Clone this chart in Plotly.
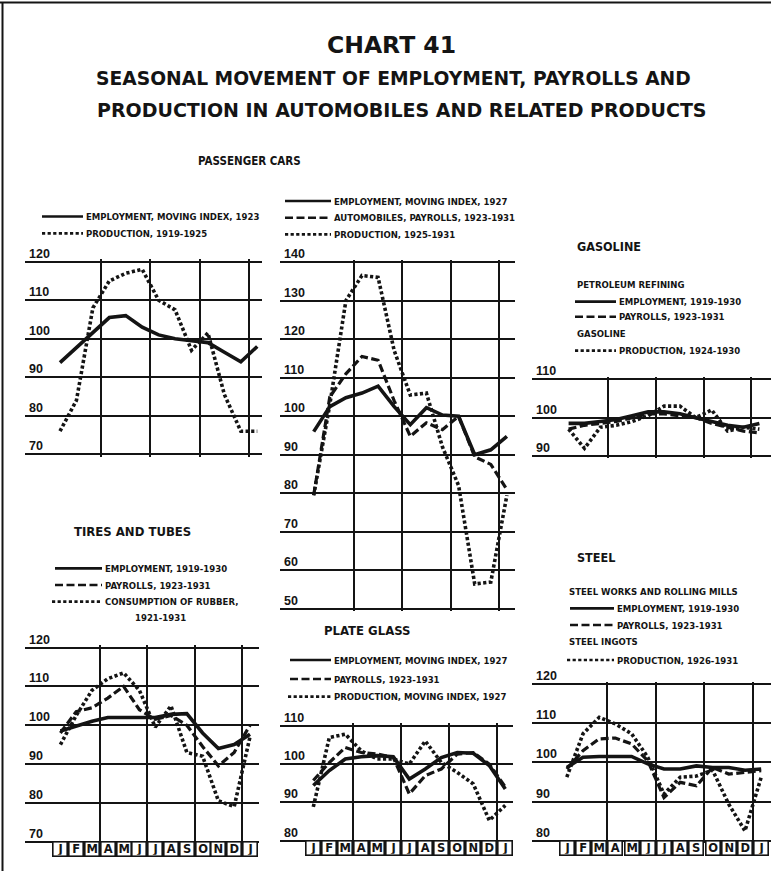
import plotly.graph_objects as go

# ---------------- data ----------------
months = ["J", "F", "M", "A", "M", "J", "J", "A", "S", "O", "N", "D", "J"]
quarter_lines = [2.5, 5.5, 8.5, 11.5]

# Passenger cars (left)
pc1_employment = [93.8, 97.7, 101.5, 105.5, 106, 103, 101, 100, 99.5, 99, 96.5, 94, 98]
pc1_production = [76, 84, 108, 115, 117, 118, 110, 107.5, 97, 101.5, 85.5, 76, 76]

# Passenger cars (middle)
pc2_employment = [96, 102.5, 104.8, 106, 107.8, 102.5, 97.8, 102.2, 100.3, 100, 90, 91.3, 94.8]
pc2_payrolls = [79.5, 105, 111, 115.5, 114.5, 104, 94.8, 98.3, 96.5, 100, 89.5, 87.5, 81]
pc2_production = [79.5, 103, 130, 136.5, 136, 117, 105.5, 106, 92, 82, 56.5, 57, 79.5]

# Gasoline
gas_employment = [98.5, 98.5, 99, 99.5, 100.5, 101.5, 101.5, 101, 100, 99, 98, 97.5, 98.5]
gas_payrolls = [97, 98, 98.5, 99, 100, 101, 101, 100.5, 100, 98.5, 97.5, 96.5, 96]
gas_production = [97, 92, 97.5, 98, 99, 100.5, 103, 103, 100, 102, 96.5, 97.5, 97]

# Tires and tubes
tt_employment = [98.5, 99.8, 101, 102, 102, 102, 102, 102.8, 103, 98, 94, 95, 97.7]
tt_payrolls = [98, 103.5, 104.5, 107, 110, 104, 101.5, 102.5, 100, 94.5, 89.5, 93, 100]
tt_production = [95, 102.5, 109, 112, 113.5, 109, 99.5, 105, 93, 92, 80.5, 79, 97]

# Plate glass
pg_employment = [94.4, 98.3, 101.3, 101.9, 102.2, 101.9, 96.1, 98.7, 101.7, 103, 102.8, 99.6, 93.5]
pg_payrolls = [95.7, 100.4, 104.3, 103, 102.6, 101.7, 92.2, 97, 98.7, 102.6, 103, 100, 94]
pg_production = [88.8, 106.9, 107.8, 103.4, 101.3, 101.3, 100, 106, 100.4, 97.8, 94.8, 85.3, 89.2]

# Steel
st_employment = [98.7, 101.3, 101.5, 101.5, 101.5, 99.6, 98.3, 98.3, 99.1, 98.7, 98.7, 98, 98.3]
st_payrolls = [98.3, 103, 106, 106.2, 104.7, 100.4, 91, 94.9, 94, 98.7, 97, 97.4, 97.9]
st_production = [96.2, 107.3, 111.5, 109.8, 107.3, 101.3, 91.9, 96.2, 96.5, 98, 89.3, 82.5, 96.2]

# ---------------- layout helpers ----------------
W, H = 771, 871
INK = "#141414"
def fx(px):
    return px / W
def fy(py):
    return 1 - py / H

SOLID = dict(dash="solid", width=3.6)
DASH = dict(dash="8px,3.5px", width=3.2)
DOT = dict(dash="3.2px,2.4px", width=3.6)

panels = [
    dict(jan=60, step=16.44, xmin=-2.1, xmax=12.3, ylow=70, yhigh=120, ylow_px=454.3, yhigh_px=261.7,
         series=[(pc1_employment, SOLID), (pc1_production, DOT)], boxes=False),
    dict(jan=313.7, step=16.1, xmin=-2.1, xmax=12.5, ylow=50, yhigh=140, ylow_px=609, yhigh_px=262,
         series=[(pc2_employment, SOLID), (pc2_payrolls, DASH), (pc2_production, DOT)], boxes=False),
    dict(jan=568.6, step=15.9, xmin=-2.3, xmax=12.7, ylow=90, yhigh=110, ylow_px=456, yhigh_px=379.3,
         series=[(gas_employment, SOLID), (gas_payrolls, DASH), (gas_production, DOT)], boxes=False),
    dict(jan=60.4, step=15.8, xmin=-2.24, xmax=12.6, ylow=70, yhigh=120, ylow_px=841.5, yhigh_px=647.7,
         series=[(tt_employment, SOLID), (tt_payrolls, DASH), (tt_production, DOT)], boxes=True),
    dict(jan=313.3, step=16.0, xmin=-2.1, xmax=12.5, ylow=80, yhigh=110, ylow_px=840.7, yhigh_px=725.7,
         series=[(pg_employment, SOLID), (pg_payrolls, DASH), (pg_production, DOT)], boxes=True),
    dict(jan=566.8, step=16.2, xmin=-2.17, xmax=12.6, ylow=80, yhigh=120, ylow_px=840.7, yhigh_px=684,
         series=[(st_employment, SOLID), (st_payrolls, DASH), (st_production, DOT)], boxes=True),
]

fig = go.Figure()
layout = dict(width=W, height=H, margin=dict(l=0, r=0, t=0, b=0),
              paper_bgcolor="white", plot_bgcolor="rgba(0,0,0,0)", showlegend=False)
annotations = []
shapes = []
PAD = 0.6
xs = list(range(len(months)))

for i, p in enumerate(panels, start=1):
    xa = "x" if i == 1 else f"x{i}"
    ya = "y" if i == 1 else f"y{i}"
    scale = (p["ylow_px"] - p["yhigh_px"]) / (p["yhigh"] - p["ylow"])
    top = p["yhigh_px"] - PAD * scale
    bot = p["ylow_px"] + PAD * scale
    left = p["jan"] + p["xmin"] * p["step"]
    right = p["jan"] + p["xmax"] * p["step"]
    layout[f"xaxis{'' if i == 1 else i}"] = dict(
        domain=[fx(left), fx(right)], range=[p["xmin"], p["xmax"]], anchor=ya,
        tickvals=quarter_lines, showticklabels=False, ticks="", showgrid=True,
        gridcolor=INK, gridwidth=2, zeroline=False, showline=False, fixedrange=True)
    layout[f"yaxis{'' if i == 1 else i}"] = dict(
        domain=[fy(bot), fy(top)], range=[p["ylow"] - PAD, p["yhigh"] + PAD], anchor=xa,
        tickvals=list(range(p["ylow"], p["yhigh"] + 1, 10)), showticklabels=False, ticks="",
        showgrid=True, gridcolor=INK, gridwidth=2.2, zeroline=False, showline=False, fixedrange=True)
    for vals, style in p["series"]:
        fig.add_trace(go.Scatter(x=xs, y=vals, mode="lines", xaxis=xa, yaxis=ya,
                                 line=dict(color=INK, **style), hoverinfo="skip"))
    for v in range(p["ylow"], p["yhigh"] + 1, 10):
        annotations.append(dict(x=p["xmin"] + 0.12, y=v, xref=xa, yref=ya, text=str(v),
                                showarrow=False, xanchor="left", yanchor="bottom", yshift=-1,
                                font=dict(family="Liberation Sans", size=12.5, color=INK, weight="bold")))
    if p["boxes"]:
        for k, m in enumerate(months):
            annotations.append(dict(x=k, y=p["ylow"], xref=xa, yref=ya, text=m, showarrow=False,
                                    xanchor="center", yanchor="middle", yshift=-7.5,
                                    width=12, height=11.5, borderwidth=1.6, borderpad=0.6,
                                    bordercolor=INK, bgcolor="white", valign="middle",
                                    font=dict(family="DejaVu Sans", size=11.5, color=INK, weight="bold")))

fig.update_layout(**layout)

# ---------------- titles ----------------
def text(x, y, t, size, anchor="left", family="DejaVu Sans Condensed", bold=True):
    annotations.append(dict(x=fx(x), y=fy(y), xref="paper", yref="paper", text=t, showarrow=False,
                            xanchor=anchor, yanchor="middle",
                            font=dict(family=family, size=size, color=INK,
                                      weight="bold" if bold else "normal")))

text(391, 45, "CHART 41", 23.5, "center", "DejaVu Sans", True)
text(394, 78, "SEASONAL MOVEMENT OF EMPLOYMENT, PAYROLLS AND", 18.7, "center", "DejaVu Sans", True)
text(402, 110, "PRODUCTION IN AUTOMOBILES AND RELATED PRODUCTS", 19, "center", "DejaVu Sans", True)

text(196, 161, "PASSENGER CARS", 11.5)
text(575, 247, "GASOLINE", 12.5)
text(72, 531, "TIRES AND TUBES", 13)
text(322, 630, "PLATE GLASS", 13)
text(575, 557, "STEEL", 12.5)

def legend_row(x0, x1, y, style, label, size=9.5):
    shapes.append(dict(type="line", xref="paper", yref="paper", x0=fx(x0), x1=fx(x1), y0=fy(y), y1=fy(y),
                       line=dict(color=INK, width=style["width"] * 0.75, dash=style["dash"])))
    text(x1 + 1, y, label, size)

# Passenger cars left
legend_row(42, 83, 216.5, SOLID, "EMPLOYMENT, MOVING INDEX, 1923")
legend_row(42, 83, 233.3, DOT, "PRODUCTION, 1919-1925")
# Passenger cars middle
legend_row(285, 331, 201, SOLID, "EMPLOYMENT, MOVING INDEX, 1927")
legend_row(285, 331, 217.7, DASH, "AUTOMOBILES, PAYROLLS, 1923-1931")
legend_row(285, 331, 234.3, DOT, "PRODUCTION, 1925-1931")
# Gasoline
text(575, 284, "PETROLEUM REFINING", 9.5)
legend_row(575, 616, 301.7, SOLID, "EMPLOYMENT, 1919-1930")
legend_row(575, 616, 316.7, DASH, "PAYROLLS, 1923-1931")
text(575, 333, "GASOLINE", 9.5)
legend_row(575, 616, 350.7, DOT, "PRODUCTION, 1924-1930")
# Tires
legend_row(55, 102, 568.3, SOLID, "EMPLOYMENT, 1919-1930")
legend_row(55, 102, 585, DASH, "PAYROLLS, 1923-1931")
legend_row(52, 102, 601.7, DOT, "CONSUMPTION OF RUBBER,")
text(160, 617, "1921-1931", 9.5, "center")
# Plate glass
legend_row(290, 331, 660, SOLID, "EMPLOYMENT, MOVING INDEX, 1927")
legend_row(290, 331, 679, DASH, "PAYROLLS, 1923-1931")
legend_row(288, 331, 696.7, DOT, "PRODUCTION, MOVING INDEX, 1927")
# Steel
text(567, 591.7, "STEEL WORKS AND ROLLING MILLS", 9.5)
legend_row(570, 614, 608.3, SOLID, "EMPLOYMENT, 1919-1930")
legend_row(570, 614, 625, DASH, "PAYROLLS, 1923-1931")
text(567, 641.7, "STEEL INGOTS", 9.5)
legend_row(567, 614, 660, DOT, "PRODUCTION, 1926-1931")

# page border lines
shapes.append(dict(type="line", xref="paper", yref="paper", x0=0, x1=1, y0=fy(2.5), y1=fy(2.5),
                   line=dict(color=INK, width=2)))
shapes.append(dict(type="line", xref="paper", yref="paper", x0=fx(2.5), x1=fx(2.5), y0=fy(3), y1=0,
                   line=dict(color=INK, width=2)))

fig.update_layout(annotations=annotations, shapes=shapes)
fig.write_html("out.html", config={"displayModeBar": False},
               post_script="document.body.style.margin='0';document.body.style.overflow='hidden';")
